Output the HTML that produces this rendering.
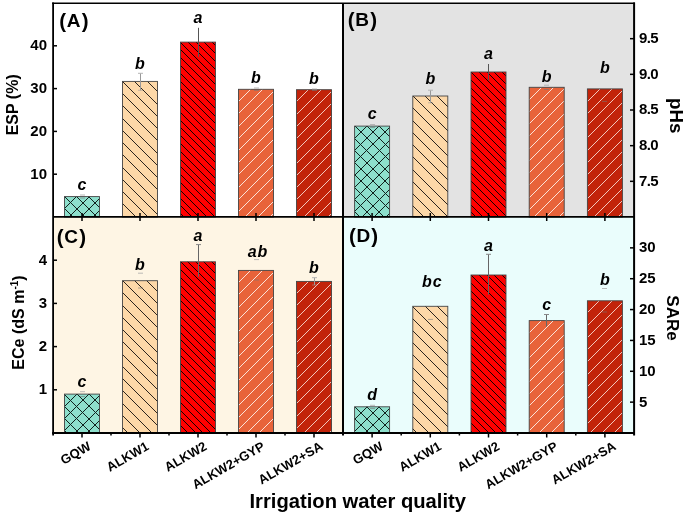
<!DOCTYPE html><html><head><meta charset="utf-8"><style>
html,body{margin:0;padding:0;background:#fff;overflow:hidden;}svg{display:block;}
text{font-family:"Liberation Sans",sans-serif;font-weight:bold;fill:#000;}svg{will-change:transform;}
</style></head><body>
<svg width="685" height="514" viewBox="0 0 685 514">
<defs>
<clipPath id="cA0"><rect x="64.50" y="196.60" width="35" height="20.40"/></clipPath>
<clipPath id="cA1"><rect x="122.50" y="81.40" width="35" height="135.60"/></clipPath>
<clipPath id="cA2"><rect x="180.50" y="42.10" width="35" height="174.90"/></clipPath>
<clipPath id="cA3"><rect x="238.50" y="89.30" width="35" height="127.70"/></clipPath>
<clipPath id="cA4"><rect x="296.50" y="89.70" width="35" height="127.30"/></clipPath>
<clipPath id="cB0"><rect x="354.60" y="126.10" width="35" height="90.90"/></clipPath>
<clipPath id="cB1"><rect x="412.80" y="96.00" width="35" height="121.00"/></clipPath>
<clipPath id="cB2"><rect x="471.00" y="72.00" width="35" height="145.00"/></clipPath>
<clipPath id="cB3"><rect x="529.20" y="87.30" width="35" height="129.70"/></clipPath>
<clipPath id="cB4"><rect x="587.40" y="88.90" width="35" height="128.10"/></clipPath>
<clipPath id="cC0"><rect x="64.50" y="394.10" width="35" height="38.90"/></clipPath>
<clipPath id="cC1"><rect x="122.50" y="280.70" width="35" height="152.30"/></clipPath>
<clipPath id="cC2"><rect x="180.50" y="261.80" width="35" height="171.20"/></clipPath>
<clipPath id="cC3"><rect x="238.50" y="270.40" width="35" height="162.60"/></clipPath>
<clipPath id="cC4"><rect x="296.50" y="281.40" width="35" height="151.60"/></clipPath>
<clipPath id="cD0"><rect x="354.60" y="406.80" width="35" height="26.20"/></clipPath>
<clipPath id="cD1"><rect x="412.80" y="306.30" width="35" height="126.70"/></clipPath>
<clipPath id="cD2"><rect x="471.00" y="275.00" width="35" height="158.00"/></clipPath>
<clipPath id="cD3"><rect x="529.20" y="320.60" width="35" height="112.40"/></clipPath>
<clipPath id="cD4"><rect x="587.40" y="300.80" width="35" height="132.20"/></clipPath>
</defs>
<rect width="685" height="514" fill="#fff"/>
<rect x="343" y="3" width="291" height="214" fill="#e3e3e3"/>
<rect x="53" y="217" width="290" height="216" fill="#fef5e4"/>
<rect x="343" y="217" width="291" height="216" fill="#eafdfc"/>
<rect x="64.50" y="196.60" width="35" height="20.40" fill="#8ddfcc"/>
<path clip-path="url(#cA0)" d="M26.60,195.60L49.00,218.00M38.60,195.60L61.00,218.00M51.60,195.60L74.00,218.00M63.60,195.60L86.00,218.00M75.60,195.60L98.00,218.00M87.60,195.60L110.00,218.00M100.60,195.60L123.00,218.00M112.60,195.60L135.00,218.00M41.40,195.60L19.00,218.00M53.40,195.60L31.00,218.00M65.40,195.60L43.00,218.00M77.40,195.60L55.00,218.00M90.40,195.60L68.00,218.00M102.40,195.60L80.00,218.00M114.40,195.60L92.00,218.00M126.40,195.60L104.00,218.00M139.40,195.60L117.00,218.00" stroke="#10201c" stroke-width="1" fill="none" shape-rendering="crispEdges"/>
<rect x="64.50" y="196.60" width="35" height="20.40" fill="none" stroke="#444" stroke-width="0.9"/>
<line x1="80.00" y1="195.00" x2="85.00" y2="195.00" stroke="#aaa" stroke-width="1" stroke-opacity="0.8"/>
<line x1="80.00" y1="198.00" x2="85.00" y2="198.00" stroke="#777" stroke-width="1" stroke-opacity="0.6"/>
<text x="82.00" y="189.80" font-size="16" font-style="italic" text-anchor="middle">c</text>
<rect x="122.50" y="81.40" width="35" height="135.60" fill="#fdd8a8"/>
<path clip-path="url(#cA1)" d="M-37.60,80.40L100.00,218.00M-25.60,80.40L112.00,218.00M-13.60,80.40L124.00,218.00M-0.60,80.40L137.00,218.00M11.40,80.40L149.00,218.00M23.40,80.40L161.00,218.00M35.40,80.40L173.00,218.00M48.40,80.40L186.00,218.00M60.40,80.40L198.00,218.00M72.40,80.40L210.00,218.00M84.40,80.40L222.00,218.00M97.40,80.40L235.00,218.00M109.40,80.40L247.00,218.00M121.40,80.40L259.00,218.00M133.40,80.40L271.00,218.00M146.40,80.40L284.00,218.00M158.40,80.40L296.00,218.00M170.40,80.40L308.00,218.00" stroke="#2a231c" stroke-width="1" fill="none" shape-rendering="crispEdges"/>
<rect x="122.50" y="81.40" width="35" height="135.60" fill="none" stroke="#444" stroke-width="0.9"/>
<line x1="140.5" y1="73.30" x2="140.5" y2="90.30" stroke="#999" stroke-width="1"/>
<line x1="138.00" y1="73.30" x2="143.00" y2="73.30" stroke="#b4b4b4" stroke-width="1"/>
<line x1="138.00" y1="90.30" x2="143.00" y2="90.30" stroke="#999" stroke-width="1" stroke-opacity="0.6"/>
<text x="140.00" y="68.80" font-size="16" font-style="italic" text-anchor="middle">b</text>
<rect x="180.50" y="42.10" width="35" height="174.90" fill="#ff0000"/>
<path clip-path="url(#cA2)" d="M-7.90,41.10L169.00,218.00M0.10,41.10L177.00,218.00M8.10,41.10L185.00,218.00M16.10,41.10L193.00,218.00M23.10,41.10L200.00,218.00M31.10,41.10L208.00,218.00M39.10,41.10L216.00,218.00M47.10,41.10L224.00,218.00M55.10,41.10L232.00,218.00M62.10,41.10L239.00,218.00M70.10,41.10L247.00,218.00M78.10,41.10L255.00,218.00M86.10,41.10L263.00,218.00M94.10,41.10L271.00,218.00M101.10,41.10L278.00,218.00M109.10,41.10L286.00,218.00M117.10,41.10L294.00,218.00M125.10,41.10L302.00,218.00M133.10,41.10L310.00,218.00M140.10,41.10L317.00,218.00M148.10,41.10L325.00,218.00M156.10,41.10L333.00,218.00M164.10,41.10L341.00,218.00M172.10,41.10L349.00,218.00M179.10,41.10L356.00,218.00M187.10,41.10L364.00,218.00M195.10,41.10L372.00,218.00M203.10,41.10L380.00,218.00M211.10,41.10L388.00,218.00M218.10,41.10L395.00,218.00M226.10,41.10L403.00,218.00" stroke="#140000" stroke-width="1" fill="none" shape-rendering="crispEdges"/>
<rect x="180.50" y="42.10" width="35" height="174.90" fill="none" stroke="#444" stroke-width="0.9"/>
<line x1="198.5" y1="27.80" x2="198.5" y2="56.70" stroke="#555" stroke-width="1"/>
<text x="198.00" y="22.90" font-size="16" font-style="italic" text-anchor="middle">a</text>
<rect x="238.50" y="89.30" width="35" height="127.70" fill="#e8633a"/>
<path clip-path="url(#cA3)" d="M214.70,88.30L85.00,218.00M227.70,88.30L98.00,218.00M239.70,88.30L110.00,218.00M251.70,88.30L122.00,218.00M263.70,88.30L134.00,218.00M276.70,88.30L147.00,218.00M288.70,88.30L159.00,218.00M300.70,88.30L171.00,218.00M312.70,88.30L183.00,218.00M324.70,88.30L195.00,218.00M337.70,88.30L208.00,218.00M349.70,88.30L220.00,218.00M361.70,88.30L232.00,218.00M373.70,88.30L244.00,218.00M386.70,88.30L257.00,218.00M398.70,88.30L269.00,218.00M410.70,88.30L281.00,218.00M422.70,88.30L293.00,218.00" stroke="#fbe2d8" stroke-width="1" fill="none" shape-rendering="crispEdges"/>
<rect x="238.50" y="89.30" width="35" height="127.70" fill="none" stroke="#444" stroke-width="0.9"/>
<line x1="254.00" y1="88.00" x2="259.00" y2="88.00" stroke="#aaa" stroke-width="1" stroke-opacity="0.8"/>
<line x1="254.00" y1="90.50" x2="259.00" y2="90.50" stroke="#777" stroke-width="1" stroke-opacity="0.6"/>
<text x="256.00" y="82.60" font-size="16" font-style="italic" text-anchor="middle">b</text>
<rect x="296.50" y="89.70" width="35" height="127.30" fill="#c2230a"/>
<path clip-path="url(#cA4)" d="M273.30,88.70L144.00,218.00M285.30,88.70L156.00,218.00M297.30,88.70L168.00,218.00M309.30,88.70L180.00,218.00M322.30,88.70L193.00,218.00M334.30,88.70L205.00,218.00M346.30,88.70L217.00,218.00M358.30,88.70L229.00,218.00M371.30,88.70L242.00,218.00M383.30,88.70L254.00,218.00M395.30,88.70L266.00,218.00M407.30,88.70L278.00,218.00M420.30,88.70L291.00,218.00M432.30,88.70L303.00,218.00M444.30,88.70L315.00,218.00M456.30,88.70L327.00,218.00M469.30,88.70L340.00,218.00M481.30,88.70L352.00,218.00" stroke="#f2c6bc" stroke-width="1" fill="none" shape-rendering="crispEdges"/>
<rect x="296.50" y="89.70" width="35" height="127.30" fill="none" stroke="#444" stroke-width="0.9"/>
<line x1="312.00" y1="89.00" x2="317.00" y2="89.00" stroke="#aaa" stroke-width="1" stroke-opacity="0.8"/>
<line x1="312.00" y1="90.50" x2="317.00" y2="90.50" stroke="#777" stroke-width="1" stroke-opacity="0.6"/>
<text x="314.00" y="83.70" font-size="16" font-style="italic" text-anchor="middle">b</text>
<rect x="354.60" y="126.10" width="35" height="90.90" fill="#8ddfcc"/>
<path clip-path="url(#cB0)" d="M243.10,125.10L336.00,218.00M256.10,125.10L349.00,218.00M268.10,125.10L361.00,218.00M280.10,125.10L373.00,218.00M292.10,125.10L385.00,218.00M305.10,125.10L398.00,218.00M317.10,125.10L410.00,218.00M329.10,125.10L422.00,218.00M341.10,125.10L434.00,218.00M354.10,125.10L447.00,218.00M366.10,125.10L459.00,218.00M378.10,125.10L471.00,218.00M390.10,125.10L483.00,218.00M402.10,125.10L495.00,218.00M330.90,125.10L238.00,218.00M342.90,125.10L250.00,218.00M355.90,125.10L263.00,218.00M367.90,125.10L275.00,218.00M379.90,125.10L287.00,218.00M391.90,125.10L299.00,218.00M404.90,125.10L312.00,218.00M416.90,125.10L324.00,218.00M428.90,125.10L336.00,218.00M440.90,125.10L348.00,218.00M453.90,125.10L361.00,218.00M465.90,125.10L373.00,218.00M477.90,125.10L385.00,218.00M489.90,125.10L397.00,218.00M502.90,125.10L410.00,218.00" stroke="#10201c" stroke-width="1" fill="none" shape-rendering="crispEdges"/>
<rect x="354.60" y="126.10" width="35" height="90.90" fill="none" stroke="#444" stroke-width="0.9"/>
<line x1="370.00" y1="124.50" x2="375.00" y2="124.50" stroke="#aaa" stroke-width="1" stroke-opacity="0.8"/>
<line x1="370.00" y1="127.50" x2="375.00" y2="127.50" stroke="#777" stroke-width="1" stroke-opacity="0.6"/>
<text x="372.10" y="119.00" font-size="16" font-style="italic" text-anchor="middle">c</text>
<rect x="412.80" y="96.00" width="35" height="121.00" fill="#fdd8a8"/>
<path clip-path="url(#cB1)" d="M277.00,95.00L400.00,218.00M289.00,95.00L412.00,218.00M302.00,95.00L425.00,218.00M314.00,95.00L437.00,218.00M326.00,95.00L449.00,218.00M338.00,95.00L461.00,218.00M351.00,95.00L474.00,218.00M363.00,95.00L486.00,218.00M375.00,95.00L498.00,218.00M387.00,95.00L510.00,218.00M400.00,95.00L523.00,218.00M412.00,95.00L535.00,218.00M424.00,95.00L547.00,218.00M436.00,95.00L559.00,218.00M449.00,95.00L572.00,218.00M461.00,95.00L584.00,218.00" stroke="#2a231c" stroke-width="1" fill="none" shape-rendering="crispEdges"/>
<rect x="412.80" y="96.00" width="35" height="121.00" fill="none" stroke="#444" stroke-width="0.9"/>
<line x1="430.5" y1="90.20" x2="430.5" y2="102.80" stroke="#999" stroke-width="1"/>
<line x1="428.00" y1="90.20" x2="433.00" y2="90.20" stroke="#b4b4b4" stroke-width="1"/>
<line x1="428.00" y1="102.80" x2="433.00" y2="102.80" stroke="#999" stroke-width="1" stroke-opacity="0.6"/>
<text x="430.30" y="83.90" font-size="16" font-style="italic" text-anchor="middle">b</text>
<rect x="471.00" y="72.00" width="35" height="145.00" fill="#ff0000"/>
<path clip-path="url(#cB2)" d="M314.00,71.00L461.00,218.00M322.00,71.00L469.00,218.00M330.00,71.00L477.00,218.00M337.00,71.00L484.00,218.00M345.00,71.00L492.00,218.00M353.00,71.00L500.00,218.00M361.00,71.00L508.00,218.00M369.00,71.00L516.00,218.00M376.00,71.00L523.00,218.00M384.00,71.00L531.00,218.00M392.00,71.00L539.00,218.00M400.00,71.00L547.00,218.00M408.00,71.00L555.00,218.00M415.00,71.00L562.00,218.00M423.00,71.00L570.00,218.00M431.00,71.00L578.00,218.00M439.00,71.00L586.00,218.00M447.00,71.00L594.00,218.00M454.00,71.00L601.00,218.00M462.00,71.00L609.00,218.00M470.00,71.00L617.00,218.00M478.00,71.00L625.00,218.00M486.00,71.00L633.00,218.00M493.00,71.00L640.00,218.00M501.00,71.00L648.00,218.00M509.00,71.00L656.00,218.00M517.00,71.00L664.00,218.00" stroke="#140000" stroke-width="1" fill="none" shape-rendering="crispEdges"/>
<rect x="471.00" y="72.00" width="35" height="145.00" fill="none" stroke="#444" stroke-width="0.9"/>
<line x1="488.5" y1="64.00" x2="488.5" y2="80.20" stroke="#555" stroke-width="1"/>
<text x="488.50" y="58.70" font-size="16" font-style="italic" text-anchor="middle">a</text>
<rect x="529.20" y="87.30" width="35" height="129.70" fill="#e8633a"/>
<path clip-path="url(#cB3)" d="M505.70,86.30L374.00,218.00M517.70,86.30L386.00,218.00M529.70,86.30L398.00,218.00M542.70,86.30L411.00,218.00M554.70,86.30L423.00,218.00M566.70,86.30L435.00,218.00M578.70,86.30L447.00,218.00M591.70,86.30L460.00,218.00M603.70,86.30L472.00,218.00M615.70,86.30L484.00,218.00M627.70,86.30L496.00,218.00M640.70,86.30L509.00,218.00M652.70,86.30L521.00,218.00M664.70,86.30L533.00,218.00M676.70,86.30L545.00,218.00M689.70,86.30L558.00,218.00M701.70,86.30L570.00,218.00M713.70,86.30L582.00,218.00" stroke="#fbe2d8" stroke-width="1" fill="none" shape-rendering="crispEdges"/>
<rect x="529.20" y="87.30" width="35" height="129.70" fill="none" stroke="#444" stroke-width="0.9"/>
<line x1="544.00" y1="85.20" x2="549.00" y2="85.20" stroke="#aaa" stroke-width="1" stroke-opacity="0.8"/>
<line x1="544.00" y1="89.50" x2="549.00" y2="89.50" stroke="#777" stroke-width="1" stroke-opacity="0.6"/>
<text x="546.70" y="81.70" font-size="16" font-style="italic" text-anchor="middle">b</text>
<rect x="587.40" y="88.90" width="35" height="128.10" fill="#c2230a"/>
<path clip-path="url(#cB4)" d="M564.10,87.90L434.00,218.00M576.10,87.90L446.00,218.00M588.10,87.90L458.00,218.00M601.10,87.90L471.00,218.00M613.10,87.90L483.00,218.00M625.10,87.90L495.00,218.00M637.10,87.90L507.00,218.00M650.10,87.90L520.00,218.00M662.10,87.90L532.00,218.00M674.10,87.90L544.00,218.00M686.10,87.90L556.00,218.00M698.10,87.90L568.00,218.00M711.10,87.90L581.00,218.00M723.10,87.90L593.00,218.00M735.10,87.90L605.00,218.00M747.10,87.90L617.00,218.00M760.10,87.90L630.00,218.00M772.10,87.90L642.00,218.00" stroke="#f2c6bc" stroke-width="1" fill="none" shape-rendering="crispEdges"/>
<rect x="587.40" y="88.90" width="35" height="128.10" fill="none" stroke="#444" stroke-width="0.9"/>
<line x1="602.00" y1="101.40" x2="607.00" y2="101.40" stroke="#777" stroke-width="1" stroke-opacity="0.6"/>
<text x="604.90" y="72.50" font-size="16" font-style="italic" text-anchor="middle">b</text>
<rect x="64.50" y="394.10" width="35" height="38.90" fill="#8ddfcc"/>
<path clip-path="url(#cC0)" d="M2.10,393.10L43.00,434.00M14.10,393.10L55.00,434.00M27.10,393.10L68.00,434.00M39.10,393.10L80.00,434.00M51.10,393.10L92.00,434.00M63.10,393.10L104.00,434.00M76.10,393.10L117.00,434.00M88.10,393.10L129.00,434.00M100.10,393.10L141.00,434.00M112.10,393.10L153.00,434.00M40.90,393.10L0.00,434.00M52.90,393.10L12.00,434.00M65.90,393.10L25.00,434.00M77.90,393.10L37.00,434.00M89.90,393.10L49.00,434.00M101.90,393.10L61.00,434.00M114.90,393.10L74.00,434.00M126.90,393.10L86.00,434.00M138.90,393.10L98.00,434.00M150.90,393.10L110.00,434.00M163.90,393.10L123.00,434.00" stroke="#10201c" stroke-width="1" fill="none" shape-rendering="crispEdges"/>
<rect x="64.50" y="394.10" width="35" height="38.90" fill="none" stroke="#444" stroke-width="0.9"/>
<line x1="80.00" y1="391.70" x2="85.00" y2="391.70" stroke="#aaa" stroke-width="1" stroke-opacity="0.8"/>
<line x1="80.00" y1="396.50" x2="85.00" y2="396.50" stroke="#777" stroke-width="1" stroke-opacity="0.6"/>
<text x="82.00" y="387.20" font-size="16" font-style="italic" text-anchor="middle">c</text>
<rect x="122.50" y="280.70" width="35" height="152.30" fill="#fdd8a8"/>
<path clip-path="url(#cC1)" d="M-50.30,279.70L104.00,434.00M-37.30,279.70L117.00,434.00M-25.30,279.70L129.00,434.00M-13.30,279.70L141.00,434.00M-1.30,279.70L153.00,434.00M11.70,279.70L166.00,434.00M23.70,279.70L178.00,434.00M35.70,279.70L190.00,434.00M47.70,279.70L202.00,434.00M60.70,279.70L215.00,434.00M72.70,279.70L227.00,434.00M84.70,279.70L239.00,434.00M96.70,279.70L251.00,434.00M109.70,279.70L264.00,434.00M121.70,279.70L276.00,434.00M133.70,279.70L288.00,434.00M145.70,279.70L300.00,434.00M158.70,279.70L313.00,434.00M170.70,279.70L325.00,434.00" stroke="#2a231c" stroke-width="1" fill="none" shape-rendering="crispEdges"/>
<rect x="122.50" y="280.70" width="35" height="152.30" fill="none" stroke="#444" stroke-width="0.9"/>
<line x1="138.00" y1="273.20" x2="143.00" y2="273.20" stroke="#aaa" stroke-width="1" stroke-opacity="0.8"/>
<line x1="138.00" y1="288.00" x2="143.00" y2="288.00" stroke="#777" stroke-width="1" stroke-opacity="0.6"/>
<text x="140.00" y="269.70" font-size="16" font-style="italic" text-anchor="middle">b</text>
<rect x="180.50" y="261.80" width="35" height="171.20" fill="#ff0000"/>
<path clip-path="url(#cC2)" d="M-0.20,260.80L173.00,434.00M7.80,260.80L181.00,434.00M15.80,260.80L189.00,434.00M23.80,260.80L197.00,434.00M30.80,260.80L204.00,434.00M38.80,260.80L212.00,434.00M46.80,260.80L220.00,434.00M54.80,260.80L228.00,434.00M62.80,260.80L236.00,434.00M70.80,260.80L244.00,434.00M77.80,260.80L251.00,434.00M85.80,260.80L259.00,434.00M93.80,260.80L267.00,434.00M101.80,260.80L275.00,434.00M108.80,260.80L282.00,434.00M116.80,260.80L290.00,434.00M124.80,260.80L298.00,434.00M132.80,260.80L306.00,434.00M140.80,260.80L314.00,434.00M147.80,260.80L321.00,434.00M155.80,260.80L329.00,434.00M163.80,260.80L337.00,434.00M171.80,260.80L345.00,434.00M179.80,260.80L353.00,434.00M186.80,260.80L360.00,434.00M194.80,260.80L368.00,434.00M202.80,260.80L376.00,434.00M210.80,260.80L384.00,434.00M218.80,260.80L392.00,434.00M225.80,260.80L399.00,434.00" stroke="#140000" stroke-width="1" fill="none" shape-rendering="crispEdges"/>
<rect x="180.50" y="261.80" width="35" height="171.20" fill="none" stroke="#444" stroke-width="0.9"/>
<line x1="198.5" y1="244.60" x2="198.5" y2="276.70" stroke="#666" stroke-width="1"/>
<line x1="196.00" y1="244.60" x2="201.00" y2="244.60" stroke="#888" stroke-width="1"/>
<text x="198.00" y="240.80" font-size="16" font-style="italic" text-anchor="middle">a</text>
<rect x="238.50" y="270.40" width="35" height="162.60" fill="#e8633a"/>
<path clip-path="url(#cC3)" d="M214.60,269.40L50.00,434.00M227.60,269.40L63.00,434.00M239.60,269.40L75.00,434.00M251.60,269.40L87.00,434.00M263.60,269.40L99.00,434.00M276.60,269.40L112.00,434.00M288.60,269.40L124.00,434.00M300.60,269.40L136.00,434.00M312.60,269.40L148.00,434.00M325.60,269.40L161.00,434.00M337.60,269.40L173.00,434.00M349.60,269.40L185.00,434.00M361.60,269.40L197.00,434.00M374.60,269.40L210.00,434.00M386.60,269.40L222.00,434.00M398.60,269.40L234.00,434.00M410.60,269.40L246.00,434.00M422.60,269.40L258.00,434.00M435.60,269.40L271.00,434.00M447.60,269.40L283.00,434.00M459.60,269.40L295.00,434.00" stroke="#fbe2d8" stroke-width="1" fill="none" shape-rendering="crispEdges"/>
<rect x="238.50" y="270.40" width="35" height="162.60" fill="none" stroke="#444" stroke-width="0.9"/>
<line x1="254.00" y1="259.60" x2="259.00" y2="259.60" stroke="#aaa" stroke-width="1" stroke-opacity="0.8"/>
<line x1="254.00" y1="280.00" x2="259.00" y2="280.00" stroke="#777" stroke-width="1" stroke-opacity="0.6"/>
<text x="257.50" y="256.50" font-size="16" font-style="italic" text-anchor="middle">a<tspan dx="0.9">b</tspan></text>
<rect x="296.50" y="281.40" width="35" height="151.60" fill="#c2230a"/>
<path clip-path="url(#cC4)" d="M272.60,280.40L119.00,434.00M285.60,280.40L132.00,434.00M297.60,280.40L144.00,434.00M309.60,280.40L156.00,434.00M321.60,280.40L168.00,434.00M334.60,280.40L181.00,434.00M346.60,280.40L193.00,434.00M358.60,280.40L205.00,434.00M370.60,280.40L217.00,434.00M383.60,280.40L230.00,434.00M395.60,280.40L242.00,434.00M407.60,280.40L254.00,434.00M419.60,280.40L266.00,434.00M432.60,280.40L279.00,434.00M444.60,280.40L291.00,434.00M456.60,280.40L303.00,434.00M468.60,280.40L315.00,434.00M481.60,280.40L328.00,434.00M493.60,280.40L340.00,434.00M505.60,280.40L352.00,434.00" stroke="#f2c6bc" stroke-width="1" fill="none" shape-rendering="crispEdges"/>
<rect x="296.50" y="281.40" width="35" height="151.60" fill="none" stroke="#444" stroke-width="0.9"/>
<line x1="314.5" y1="277.70" x2="314.5" y2="285.00" stroke="#999" stroke-width="1"/>
<line x1="312.00" y1="277.70" x2="317.00" y2="277.70" stroke="#b4b4b4" stroke-width="1"/>
<line x1="312.00" y1="285.00" x2="317.00" y2="285.00" stroke="#999" stroke-width="1" stroke-opacity="0.6"/>
<text x="314.00" y="272.90" font-size="16" font-style="italic" text-anchor="middle">b</text>
<rect x="354.60" y="406.80" width="35" height="26.20" fill="#8ddfcc"/>
<path clip-path="url(#cD0)" d="M304.80,405.80L333.00,434.00M316.80,405.80L345.00,434.00M328.80,405.80L357.00,434.00M341.80,405.80L370.00,434.00M353.80,405.80L382.00,434.00M365.80,405.80L394.00,434.00M377.80,405.80L406.00,434.00M390.80,405.80L419.00,434.00M402.80,405.80L431.00,434.00M331.20,405.80L303.00,434.00M343.20,405.80L315.00,434.00M355.20,405.80L327.00,434.00M368.20,405.80L340.00,434.00M380.20,405.80L352.00,434.00M392.20,405.80L364.00,434.00M404.20,405.80L376.00,434.00M417.20,405.80L389.00,434.00M429.20,405.80L401.00,434.00" stroke="#10201c" stroke-width="1" fill="none" shape-rendering="crispEdges"/>
<rect x="354.60" y="406.80" width="35" height="26.20" fill="none" stroke="#444" stroke-width="0.9"/>
<line x1="370.00" y1="405.30" x2="375.00" y2="405.30" stroke="#aaa" stroke-width="1" stroke-opacity="0.8"/>
<line x1="370.00" y1="408.50" x2="375.00" y2="408.50" stroke="#777" stroke-width="1" stroke-opacity="0.6"/>
<text x="372.10" y="400.40" font-size="16" font-style="italic" text-anchor="middle">d</text>
<rect x="412.80" y="306.30" width="35" height="126.70" fill="#fdd8a8"/>
<path clip-path="url(#cD1)" d="M265.30,305.30L394.00,434.00M277.30,305.30L406.00,434.00M289.30,305.30L418.00,434.00M301.30,305.30L430.00,434.00M314.30,305.30L443.00,434.00M326.30,305.30L455.00,434.00M338.30,305.30L467.00,434.00M350.30,305.30L479.00,434.00M363.30,305.30L492.00,434.00M375.30,305.30L504.00,434.00M387.30,305.30L516.00,434.00M399.30,305.30L528.00,434.00M411.30,305.30L540.00,434.00M424.30,305.30L553.00,434.00M436.30,305.30L565.00,434.00M448.30,305.30L577.00,434.00M460.30,305.30L589.00,434.00" stroke="#2a231c" stroke-width="1" fill="none" shape-rendering="crispEdges"/>
<rect x="412.80" y="306.30" width="35" height="126.70" fill="none" stroke="#444" stroke-width="0.9"/>
<line x1="428.00" y1="319.40" x2="433.00" y2="319.40" stroke="#777" stroke-width="1" stroke-opacity="0.6"/>
<text x="431.80" y="287.20" font-size="16" font-style="italic" text-anchor="middle">b<tspan dx="0.9">c</tspan></text>
<rect x="471.00" y="275.00" width="35" height="158.00" fill="#ff0000"/>
<path clip-path="url(#cD2)" d="M298.00,274.00L458.00,434.00M306.00,274.00L466.00,434.00M314.00,274.00L474.00,434.00M322.00,274.00L482.00,434.00M330.00,274.00L490.00,434.00M337.00,274.00L497.00,434.00M345.00,274.00L505.00,434.00M353.00,274.00L513.00,434.00M361.00,274.00L521.00,434.00M369.00,274.00L529.00,434.00M376.00,274.00L536.00,434.00M384.00,274.00L544.00,434.00M392.00,274.00L552.00,434.00M400.00,274.00L560.00,434.00M408.00,274.00L568.00,434.00M415.00,274.00L575.00,434.00M423.00,274.00L583.00,434.00M431.00,274.00L591.00,434.00M439.00,274.00L599.00,434.00M447.00,274.00L607.00,434.00M454.00,274.00L614.00,434.00M462.00,274.00L622.00,434.00M470.00,274.00L630.00,434.00M478.00,274.00L638.00,434.00M486.00,274.00L646.00,434.00M493.00,274.00L653.00,434.00M501.00,274.00L661.00,434.00M509.00,274.00L669.00,434.00M517.00,274.00L677.00,434.00" stroke="#140000" stroke-width="1" fill="none" shape-rendering="crispEdges"/>
<rect x="471.00" y="275.00" width="35" height="158.00" fill="none" stroke="#444" stroke-width="0.9"/>
<line x1="488.5" y1="254.30" x2="488.5" y2="294.60" stroke="#666" stroke-width="1"/>
<line x1="486.00" y1="254.30" x2="491.00" y2="254.30" stroke="#888" stroke-width="1"/>
<text x="488.50" y="250.80" font-size="16" font-style="italic" text-anchor="middle">a</text>
<rect x="529.20" y="320.60" width="35" height="112.40" fill="#e8633a"/>
<path clip-path="url(#cD3)" d="M505.40,319.60L391.00,434.00M518.40,319.60L404.00,434.00M530.40,319.60L416.00,434.00M542.40,319.60L428.00,434.00M554.40,319.60L440.00,434.00M567.40,319.60L453.00,434.00M579.40,319.60L465.00,434.00M591.40,319.60L477.00,434.00M603.40,319.60L489.00,434.00M615.40,319.60L501.00,434.00M628.40,319.60L514.00,434.00M640.40,319.60L526.00,434.00M652.40,319.60L538.00,434.00M664.40,319.60L550.00,434.00M677.40,319.60L563.00,434.00M689.40,319.60L575.00,434.00M701.40,319.60L587.00,434.00" stroke="#fbe2d8" stroke-width="1" fill="none" shape-rendering="crispEdges"/>
<rect x="529.20" y="320.60" width="35" height="112.40" fill="none" stroke="#444" stroke-width="0.9"/>
<line x1="546.5" y1="314.50" x2="546.5" y2="326.60" stroke="#666" stroke-width="1"/>
<line x1="544.00" y1="314.50" x2="549.00" y2="314.50" stroke="#888" stroke-width="1"/>
<text x="546.70" y="309.80" font-size="16" font-style="italic" text-anchor="middle">c</text>
<rect x="587.40" y="300.80" width="35" height="132.20" fill="#c2230a"/>
<path clip-path="url(#cD4)" d="M564.20,299.80L430.00,434.00M576.20,299.80L442.00,434.00M588.20,299.80L454.00,434.00M600.20,299.80L466.00,434.00M613.20,299.80L479.00,434.00M625.20,299.80L491.00,434.00M637.20,299.80L503.00,434.00M649.20,299.80L515.00,434.00M662.20,299.80L528.00,434.00M674.20,299.80L540.00,434.00M686.20,299.80L552.00,434.00M698.20,299.80L564.00,434.00M711.20,299.80L577.00,434.00M723.20,299.80L589.00,434.00M735.20,299.80L601.00,434.00M747.20,299.80L613.00,434.00M760.20,299.80L626.00,434.00M772.20,299.80L638.00,434.00" stroke="#f2c6bc" stroke-width="1" fill="none" shape-rendering="crispEdges"/>
<rect x="587.40" y="300.80" width="35" height="132.20" fill="none" stroke="#444" stroke-width="0.9"/>
<line x1="602.00" y1="288.50" x2="607.00" y2="288.50" stroke="#aaa" stroke-width="1" stroke-opacity="0.8"/>
<line x1="602.00" y1="312.00" x2="607.00" y2="312.00" stroke="#777" stroke-width="1" stroke-opacity="0.6"/>
<text x="604.90" y="284.80" font-size="16" font-style="italic" text-anchor="middle">b</text>
<line x1="53.00" y1="174.20" x2="57.00" y2="174.20" stroke="#000" stroke-width="1.5"/>
<text x="47" y="178.60" font-size="15" text-anchor="end">10</text>
<line x1="53.00" y1="131.40" x2="57.00" y2="131.40" stroke="#000" stroke-width="1.5"/>
<text x="47" y="135.80" font-size="15" text-anchor="end">20</text>
<line x1="53.00" y1="88.60" x2="57.00" y2="88.60" stroke="#000" stroke-width="1.5"/>
<text x="47" y="93.00" font-size="15" text-anchor="end">30</text>
<line x1="53.00" y1="45.80" x2="57.00" y2="45.80" stroke="#000" stroke-width="1.5"/>
<text x="47" y="50.20" font-size="15" text-anchor="end">40</text>
<line x1="53.00" y1="389.80" x2="57.00" y2="389.80" stroke="#000" stroke-width="1.5"/>
<text x="47" y="394.20" font-size="15" text-anchor="end">1</text>
<line x1="53.00" y1="346.60" x2="57.00" y2="346.60" stroke="#000" stroke-width="1.5"/>
<text x="47" y="351.00" font-size="15" text-anchor="end">2</text>
<line x1="53.00" y1="303.40" x2="57.00" y2="303.40" stroke="#000" stroke-width="1.5"/>
<text x="47" y="307.80" font-size="15" text-anchor="end">3</text>
<line x1="53.00" y1="260.20" x2="57.00" y2="260.20" stroke="#000" stroke-width="1.5"/>
<text x="47" y="264.60" font-size="15" text-anchor="end">4</text>
<line x1="630.00" y1="181.33" x2="634.00" y2="181.33" stroke="#000" stroke-width="1.5"/>
<text x="639" y="185.73" font-size="15" letter-spacing="-0.6">7.5</text>
<line x1="630.00" y1="145.67" x2="634.00" y2="145.67" stroke="#000" stroke-width="1.5"/>
<text x="639" y="150.07" font-size="15" letter-spacing="-0.6">8.0</text>
<line x1="630.00" y1="110.00" x2="634.00" y2="110.00" stroke="#000" stroke-width="1.5"/>
<text x="639" y="114.40" font-size="15" letter-spacing="-0.6">8.5</text>
<line x1="630.00" y1="74.33" x2="634.00" y2="74.33" stroke="#000" stroke-width="1.5"/>
<text x="639" y="78.73" font-size="15" letter-spacing="-0.6">9.0</text>
<line x1="630.00" y1="38.67" x2="634.00" y2="38.67" stroke="#000" stroke-width="1.5"/>
<text x="639" y="43.07" font-size="15" letter-spacing="-0.6">9.5</text>
<line x1="630.00" y1="402.14" x2="634.00" y2="402.14" stroke="#000" stroke-width="1.5"/>
<text x="639" y="406.54" font-size="15">5</text>
<line x1="630.00" y1="371.29" x2="634.00" y2="371.29" stroke="#000" stroke-width="1.5"/>
<text x="639" y="375.69" font-size="15">10</text>
<line x1="630.00" y1="340.43" x2="634.00" y2="340.43" stroke="#000" stroke-width="1.5"/>
<text x="639" y="344.83" font-size="15">15</text>
<line x1="630.00" y1="309.57" x2="634.00" y2="309.57" stroke="#000" stroke-width="1.5"/>
<text x="639" y="313.97" font-size="15">20</text>
<line x1="630.00" y1="278.71" x2="634.00" y2="278.71" stroke="#000" stroke-width="1.5"/>
<text x="639" y="283.11" font-size="15">25</text>
<line x1="630.00" y1="247.86" x2="634.00" y2="247.86" stroke="#000" stroke-width="1.5"/>
<text x="639" y="252.26" font-size="15">30</text>
<line x1="82.00" y1="217.00" x2="82.00" y2="213.00" stroke="#000" stroke-width="1.5"/>
<line x1="140.00" y1="217.00" x2="140.00" y2="213.00" stroke="#000" stroke-width="1.5"/>
<line x1="198.00" y1="217.00" x2="198.00" y2="213.00" stroke="#000" stroke-width="1.5"/>
<line x1="256.00" y1="217.00" x2="256.00" y2="213.00" stroke="#000" stroke-width="1.5"/>
<line x1="314.00" y1="217.00" x2="314.00" y2="213.00" stroke="#000" stroke-width="1.5"/>
<line x1="372.10" y1="217.00" x2="372.10" y2="213.00" stroke="#000" stroke-width="1.5"/>
<line x1="430.30" y1="217.00" x2="430.30" y2="213.00" stroke="#000" stroke-width="1.5"/>
<line x1="488.50" y1="217.00" x2="488.50" y2="213.00" stroke="#000" stroke-width="1.5"/>
<line x1="546.70" y1="217.00" x2="546.70" y2="213.00" stroke="#000" stroke-width="1.5"/>
<line x1="604.90" y1="217.00" x2="604.90" y2="213.00" stroke="#000" stroke-width="1.5"/>
<line x1="82.00" y1="217.00" x2="82.00" y2="221.00" stroke="#000" stroke-width="1.5"/>
<line x1="82.00" y1="433.00" x2="82.00" y2="437.50" stroke="#000" stroke-width="1.5"/>
<line x1="140.00" y1="217.00" x2="140.00" y2="221.00" stroke="#000" stroke-width="1.5"/>
<line x1="140.00" y1="433.00" x2="140.00" y2="437.50" stroke="#000" stroke-width="1.5"/>
<line x1="198.00" y1="217.00" x2="198.00" y2="221.00" stroke="#000" stroke-width="1.5"/>
<line x1="198.00" y1="433.00" x2="198.00" y2="437.50" stroke="#000" stroke-width="1.5"/>
<line x1="256.00" y1="217.00" x2="256.00" y2="221.00" stroke="#000" stroke-width="1.5"/>
<line x1="256.00" y1="433.00" x2="256.00" y2="437.50" stroke="#000" stroke-width="1.5"/>
<line x1="314.00" y1="217.00" x2="314.00" y2="221.00" stroke="#000" stroke-width="1.5"/>
<line x1="314.00" y1="433.00" x2="314.00" y2="437.50" stroke="#000" stroke-width="1.5"/>
<line x1="111.00" y1="433.00" x2="111.00" y2="435.50" stroke="#000" stroke-width="1.5"/>
<line x1="169.00" y1="433.00" x2="169.00" y2="435.50" stroke="#000" stroke-width="1.5"/>
<line x1="227.00" y1="433.00" x2="227.00" y2="435.50" stroke="#000" stroke-width="1.5"/>
<line x1="285.00" y1="433.00" x2="285.00" y2="435.50" stroke="#000" stroke-width="1.5"/>
<line x1="372.10" y1="217.00" x2="372.10" y2="221.00" stroke="#000" stroke-width="1.5"/>
<line x1="372.10" y1="433.00" x2="372.10" y2="437.50" stroke="#000" stroke-width="1.5"/>
<line x1="430.30" y1="217.00" x2="430.30" y2="221.00" stroke="#000" stroke-width="1.5"/>
<line x1="430.30" y1="433.00" x2="430.30" y2="437.50" stroke="#000" stroke-width="1.5"/>
<line x1="488.50" y1="217.00" x2="488.50" y2="221.00" stroke="#000" stroke-width="1.5"/>
<line x1="488.50" y1="433.00" x2="488.50" y2="437.50" stroke="#000" stroke-width="1.5"/>
<line x1="546.70" y1="217.00" x2="546.70" y2="221.00" stroke="#000" stroke-width="1.5"/>
<line x1="546.70" y1="433.00" x2="546.70" y2="437.50" stroke="#000" stroke-width="1.5"/>
<line x1="604.90" y1="217.00" x2="604.90" y2="221.00" stroke="#000" stroke-width="1.5"/>
<line x1="604.90" y1="433.00" x2="604.90" y2="437.50" stroke="#000" stroke-width="1.5"/>
<line x1="401.20" y1="433.00" x2="401.20" y2="435.50" stroke="#000" stroke-width="1.5"/>
<line x1="459.40" y1="433.00" x2="459.40" y2="435.50" stroke="#000" stroke-width="1.5"/>
<line x1="517.60" y1="433.00" x2="517.60" y2="435.50" stroke="#000" stroke-width="1.5"/>
<line x1="575.80" y1="433.00" x2="575.80" y2="435.50" stroke="#000" stroke-width="1.5"/>
<line x1="52.10" y1="3.25" x2="635.00" y2="3.25" stroke="#000" stroke-width="1.5"/>
<line x1="53.10" y1="2.50" x2="53.10" y2="435.50" stroke="#000" stroke-width="1.8"/>
<line x1="634.10" y1="2.50" x2="634.10" y2="435.50" stroke="#000" stroke-width="2"/>
<line x1="52.10" y1="432.90" x2="635.00" y2="432.90" stroke="#000" stroke-width="2"/>
<line x1="343.00" y1="3.00" x2="343.00" y2="435.50" stroke="#000" stroke-width="2"/>
<line x1="53.00" y1="216.90" x2="634.00" y2="216.90" stroke="#000" stroke-width="1.8"/>
<text x="59.3" y="27" font-size="19"><tspan font-size="20.5" dy="0.6">(</tspan><tspan dx="0.6" dy="-0.6">A</tspan><tspan dx="1.2" font-size="20.5" dy="0.6">)</tspan></text>
<text x="347.8" y="26" font-size="19"><tspan font-size="20.5" dy="0.6">(</tspan><tspan dx="0.6" dy="-0.6">B</tspan><tspan dx="1.2" font-size="20.5" dy="0.6">)</tspan></text>
<text x="56.8" y="243" font-size="19"><tspan font-size="20.5" dy="0.6">(</tspan><tspan dx="0.6" dy="-0.6">C</tspan><tspan dx="1.2" font-size="20.5" dy="0.6">)</tspan></text>
<text x="349" y="242" font-size="19"><tspan font-size="20.5" dy="0.6">(</tspan><tspan dx="0.6" dy="-0.6">D</tspan><tspan dx="1.2" font-size="20.5" dy="0.6">)</tspan></text>
<text transform="translate(18,104.8) rotate(-90)" font-size="16" text-anchor="middle">ESP (%)</text>
<text transform="translate(24,322.5) rotate(-90)" font-size="16" text-anchor="middle">ECe (dS m<tspan font-size="10" dy="-6">-1</tspan><tspan dy="6">)</tspan></text>
<text transform="translate(669.8,115.7) rotate(90)" font-size="18.8" text-anchor="middle">pHs</text>
<text transform="translate(667,318) rotate(90)" font-size="17" text-anchor="middle">SARe</text>
<text transform="translate(91.80,448.8) rotate(-30)" font-size="13" text-anchor="end">GQW</text>
<text transform="translate(149.80,448.8) rotate(-30)" font-size="13" text-anchor="end">ALKW1</text>
<text transform="translate(207.80,448.8) rotate(-30)" font-size="13" text-anchor="end">ALKW2</text>
<text transform="translate(265.80,448.8) rotate(-30)" font-size="13" text-anchor="end">ALKW2+GYP</text>
<text transform="translate(323.80,448.8) rotate(-30)" font-size="13" text-anchor="end">ALKW2+SA</text>
<text transform="translate(384.10,448.8) rotate(-30)" font-size="13" text-anchor="end">GQW</text>
<text transform="translate(442.30,448.8) rotate(-30)" font-size="13" text-anchor="end">ALKW1</text>
<text transform="translate(500.50,448.8) rotate(-30)" font-size="13" text-anchor="end">ALKW2</text>
<text transform="translate(558.70,448.8) rotate(-30)" font-size="13" text-anchor="end">ALKW2+GYP</text>
<text transform="translate(616.90,448.8) rotate(-30)" font-size="13" text-anchor="end">ALKW2+SA</text>
<text x="249.5" y="507.5" font-size="20.2">Irrigation water quality</text>
</svg></body></html>
